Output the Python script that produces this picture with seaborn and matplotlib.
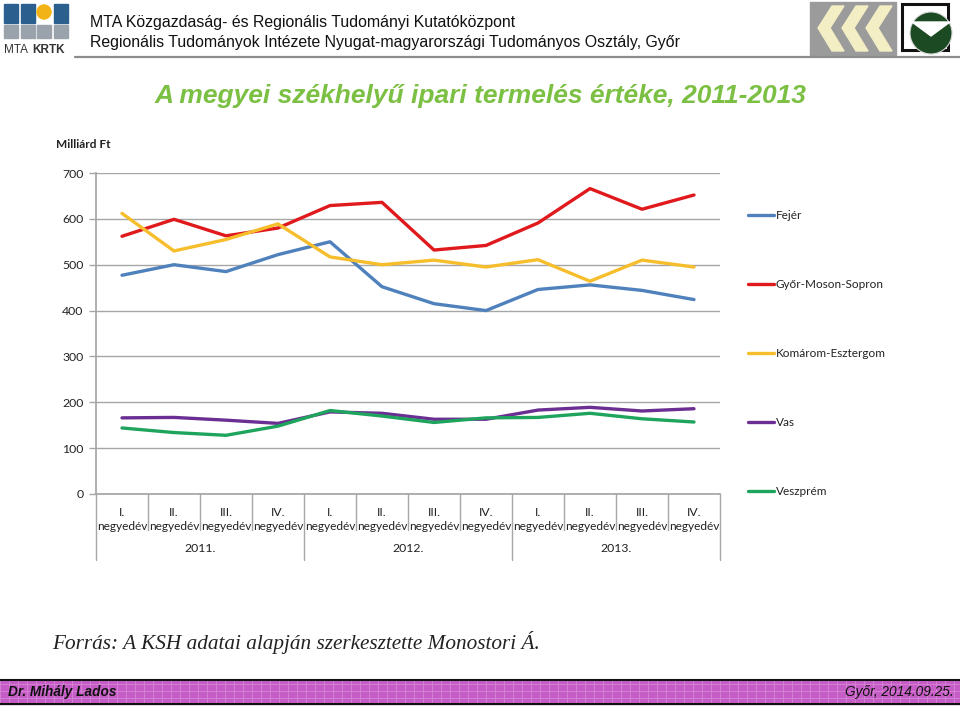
import numpy as np
import pandas as pd
import matplotlib
matplotlib.use("Agg")
import matplotlib.pyplot as plt
import seaborn as sns
from matplotlib.patches import Rectangle, Circle, Polygon

# ---------------- data ----------------
quarters = ["I.", "II.", "III.", "IV."] * 3
years = ["2011.", "2012.", "2013."]
quarter_word = "negyedév"
series_names = ["Fejér", "Győr-Moson-Sopron", "Komárom-Esztergom", "Vas", "Veszprém"]
fejer = [477, 500, 485, 522, 550, 452, 415, 400, 446, 456, 444, 424]
gyor = [562, 599, 563, 580, 629, 636, 532, 542, 591, 666, 621, 652]
komarom = [612, 530, 555, 589, 517, 500, 510, 495, 511, 464, 510, 495]
vas = [166, 167, 161, 154, 179, 176, 163, 163, 183, 189, 181, 186]
veszprem = [144, 134, 128, 148, 182, 170, 156, 166, 167, 176, 164, 157]
colors = ["#4F81BD", "#E0191D", "#F6BE2C", "#6B2F94", "#1FA45E"]
yticks = [0, 100, 200, 300, 400, 500, 600, 700]

title = "A megyei székhelyű ipari termelés értéke, 2011-2013"
ylabel = "Milliárd Ft"
header1 = "MTA Közgazdaság- és Regionális Tudományi Kutatóközpont"
header2 = "Regionális Tudományok Intézete Nyugat-magyarországi Tudományos Osztály, Győr"
source = "Forrás: A KSH adatai alapján szerkesztette Monostori Á."
author = "Dr. Mihály Lados"
place_date = "Győr, 2014.09.25."

# ---------------- figure ----------------
sns.set_theme(style="white")
plt.rcParams["font.family"] = ["Lato", "DejaVu Sans"]

W, H = 960, 708
fig = plt.figure(figsize=(W / 100, H / 100), dpi=100)
fig.patch.set_facecolor("white")

def fx(px):
    return px / W

def fy(py):
    return 1 - py / H

# overlay axes in pixel coordinates for decoration
deco = fig.add_axes([0, 0, 1, 1], zorder=0)
deco.set_xlim(0, W)
deco.set_ylim(H, 0)
deco.axis("off")

# left logo (MTA KRTK)
blue = "#2B5F8E"
for i in range(4):
    x0 = 4 + i * 16.5
    deco.add_patch(Rectangle((x0, 25), 14, 13, color="#9AA3AB"))
for x0 in [4, 20.5, 53.5]:
    deco.add_patch(Rectangle((x0, 4), 14, 19, color=blue))
deco.add_patch(Circle((44, 12), 7, color="#F2B317"))
deco.text(4, 50, "MTA ", fontsize=8.5, family="Liberation Sans", va="center", color="#333333")
deco.text(32, 50, "KRTK", fontsize=8.5, family="Liberation Sans", weight="bold", va="center", color="#333333")

# header texts
deco.text(90, 22, header1, fontsize=11.4, family="Liberation Sans", va="center", color="#111111")
deco.text(90, 42, header2, fontsize=11.4, family="Liberation Sans", va="center", color="#111111")
deco.plot([75, 960], [57, 57], color="#8C8C8C", lw=1.6)

# right logos
deco.add_patch(Rectangle((810, 2), 86, 53, color="#9B9B9B"))
for k in range(3):
    xs = 818 + k * 24
    deco.add_patch(Polygon([[xs + 14, 6], [xs + 26, 6], [xs + 12, 28], [xs + 26, 51],
                            [xs + 14, 51], [xs, 28]], closed=True, color="#F3EEC4"))
deco.add_patch(Rectangle((902, 4), 46, 46, fill=False, ec="#111111", lw=2.2))
deco.add_patch(Circle((931, 33), 21, color="#1C4A22", ec="#D8D8D8", lw=0.8))
deco.add_patch(Polygon([[912, 22], [950, 22], [931, 36]], closed=True, color="white"))

# title
deco.text(480, 96, title, fontsize=19, family="Liberation Sans", weight="bold", style="italic",
          color="#7CC043", ha="center", va="center")
# y unit label
deco.text(56, 144, ylabel, fontsize=8.5, weight="bold", va="center", color="#222222")

# source
deco.text(52, 643, source, fontsize=15.3, family="Liberation Serif", style="italic",
          va="center", color="#222222")

# footer bar
deco.add_patch(Rectangle((0, 680), W, 24, color="#C65DC6"))
for gx in np.arange(0, W, 9):
    deco.plot([gx, gx], [680, 704], color="#D98BD9", lw=0.5)
for gy in np.arange(684, 704, 7):
    deco.plot([0, W], [gy, gy], color="#D98BD9", lw=0.5)
deco.plot([0, W], [679.5, 679.5], color="#111111", lw=1.5)
deco.plot([0, W], [704, 704], color="#111111", lw=1.5)
deco.text(8, 692, author, fontsize=9.8, family="Liberation Sans", weight="bold", style="italic",
          va="center", color="#111111")
deco.text(954, 692, place_date, fontsize=9.8, family="Liberation Sans", style="italic",
          va="center", ha="right", color="#111111")

# ---------------- chart ----------------
ax_l, ax_r, ax_t, ax_b = 96, 720, 173, 494
ax = fig.add_axes([fx(ax_l), fy(ax_b), fx(ax_r - ax_l), (ax_b - ax_t) / H], zorder=2)
ax.patch.set_alpha(0)

n = len(quarters)
pos = np.arange(n)
rows = []
for name, vals in zip(series_names, [fejer, gyor, komarom, vas, veszprem]):
    for p, v in zip(pos, vals):
        rows.append({"pos": p, "value": v, "series": name})
df = pd.DataFrame(rows)

sns.lineplot(data=df, x="pos", y="value", hue="series", hue_order=series_names,
             palette=colors, linewidth=2.4, ax=ax, legend=True)

ax.set_xlim(-0.5, n - 0.5)
ax.set_ylim(0, 700)
ax.set_yticks(yticks)
ax.set_yticklabels([str(t) for t in yticks], fontsize=8.8, color="#222222")
ax.set_xticks([])
ax.set_xlabel("")
ax.set_ylabel("")
ax.grid(axis="y", color="#A6A6A6", lw=1)
ax.set_axisbelow(True)
for s in ["top", "right"]:
    ax.spines[s].set_visible(False)
ax.spines["left"].set_color("#A6A6A6")
ax.spines["bottom"].set_color("#A6A6A6")
ax.tick_params(axis="y", left=True, length=5, color="#A6A6A6", width=1, pad=4)

# category labels and separators
ah = ax_b - ax_t
xt = ax.get_xaxis_transform()
for i, q in enumerate(quarters):
    ax.annotate(q, xy=(pos[i], 0), xycoords=xt, xytext=(0, -18), textcoords="offset pixels",
                ha="center", va="center", fontsize=8.8, color="#222222", annotation_clip=False)
    ax.annotate(quarter_word, xy=(pos[i], 0), xycoords=xt, xytext=(0, -32), textcoords="offset pixels",
                ha="center", va="center", fontsize=8.6, color="#222222", annotation_clip=False)
for j, yr in enumerate(years):
    ax.annotate(yr, xy=(pos[j * 4] + 1.5, 0), xycoords=xt, xytext=(0, -54), textcoords="offset pixels",
                ha="center", va="center", fontsize=8.8, color="#222222", annotation_clip=False)
for b in range(n + 1):
    xb = b - 0.5
    long = (b % 4 == 0)
    depth = (560 - ax_b) if long else (530 - ax_b)
    ax.plot([xb, xb], [0, -depth / ah], transform=xt, color="#A6A6A6", lw=1, clip_on=False)

# legend
leg = ax.legend(loc="upper left", bbox_to_anchor=(fx(748), fy(210)), bbox_transform=fig.transFigure,
                frameon=False, fontsize=8.5, labelspacing=4.92, handlelength=2.2, handletextpad=0.15,
                borderpad=0, borderaxespad=0)
for t in leg.get_texts():
    t.set_color("#222222")
for h in leg.get_lines():
    h.set_linewidth(2.4)

fig.savefig("out.png", dpi=100, facecolor="white")
